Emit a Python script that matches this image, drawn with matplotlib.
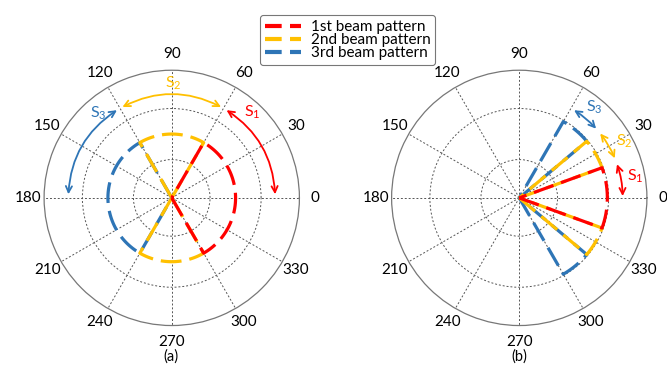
import numpy as np
import matplotlib
matplotlib.use("Agg")
import matplotlib.pyplot as plt

plt.rcParams['font.family'] = ['Lato', 'DejaVu Sans']
plt.rcParams['mathtext.default'] = 'regular'

# Daten
beam_names = ["1st beam pattern", "2nd beam pattern", "3rd beam pattern"]
beam_colors = ["#FF0000", "#FFC000", "#2E75B6"]
sub_labels = ["1", "2", "3"]

# (a) keulen: (start, ende) in grad
left_lobes = [[(-60, 60)], [(60, 120), (240, 300)], [(120, 240)]]
left_gain = 0.5
left_arrows = [(2, 58), (61.5, 118.5), (122, 178)]
left_label_pos = [(47, 0.92), (89, 0.90), (131, 0.88)]

# (b) keulen
right_lobes = [[(-20, 20)], [(20, 40), (-40, -20)], [(40, 60), (-60, -40)]]
right_gain = 0.69
right_arrows = [(1, 19), (22.5, 38.5), (42, 58)]
right_label_pos = [(10.7, 0.925), (28.2, 0.93), (50.3, 0.92)]

theta_ticks = np.arange(0, 360, 30)
ring_ticks = [0.3, 0.7]


def lobe_path(a0, a1, r):
    arc = np.radians(np.linspace(a0, a1, 60))
    th = np.concatenate([[np.radians(a0)], arc, [np.radians(a1)]])
    rr = np.concatenate([[0], np.full(arc.size, r), [0]])
    return th, rr


def draw_panel(ax, lobes, gain, arrows, label_pos):
    ax.set_ylim(0, 1)
    ax.set_rticks(ring_ticks)
    ax.set_yticklabels([])
    ax.set_thetagrids(theta_ticks, [str(t) for t in theta_ticks])
    ax.tick_params(axis='x', pad=1, labelsize=11)
    ax.grid(True, color='#555555', linestyle=(0, (2, 2)), linewidth=0.7)
    ax.spines['polar'].set_color('#777777')
    ax.spines['polar'].set_linewidth(0.9)

    # blau zuerst, rot oben
    for i in [2, 1, 0]:
        for a0, a1 in lobes[i]:
            th, rr = lobe_path(a0, a1, gain)
            ax.plot(th, rr, color=beam_colors[i], lw=2.3, dashes=(6.5, 2.5),
                    solid_capstyle='butt', dash_capstyle='butt')

    for i, (a0, a1) in enumerate(arrows):
        rad = np.tan(np.radians(a1 - a0) / 4)
        ax.annotate("", xy=(np.radians(a1), 0.81), xytext=(np.radians(a0), 0.81),
                    arrowprops=dict(arrowstyle='<->', color=beam_colors[i], lw=1.3,
                                    mutation_scale=11, shrinkA=0, shrinkB=0,
                                    connectionstyle=f"arc3,rad={rad}"),
                    annotation_clip=False)
        th, r = label_pos[i]
        ax.text(np.radians(th), r, f"S$_{{{sub_labels[i]}}}$", color=beam_colors[i],
                fontsize=11.5, ha='center', va='center')


fig = plt.figure(figsize=(6.67, 3.88), dpi=100)
ax1 = fig.add_axes([0.066, 0.161, 0.383, 0.658], projection='polar')
ax2 = fig.add_axes([0.587, 0.161, 0.383, 0.658], projection='polar')

draw_panel(ax1, left_lobes, left_gain, left_arrows, left_label_pos)
draw_panel(ax2, right_lobes, right_gain, right_arrows, right_label_pos)

fig.text(0.257, 0.080, "(a)", ha='center', va='center', fontsize=10.5)
fig.text(0.778, 0.080, "(b)", ha='center', va='center', fontsize=10.5)

handles = [plt.Line2D([], [], color=c, lw=3, dashes=(4, 2)) for c in beam_colors]
leg = fig.legend(handles, beam_names, loc='upper center', bbox_to_anchor=(0.521, 0.98),
                 fontsize=11, handlelength=2.4, handletextpad=0.6, labelspacing=-0.05,
                 borderpad=0.3, frameon=True, fancybox=True)
leg.get_frame().set_edgecolor('#555555')
leg.get_frame().set_linewidth(0.8)

fig.savefig("out.png", dpi=100)
